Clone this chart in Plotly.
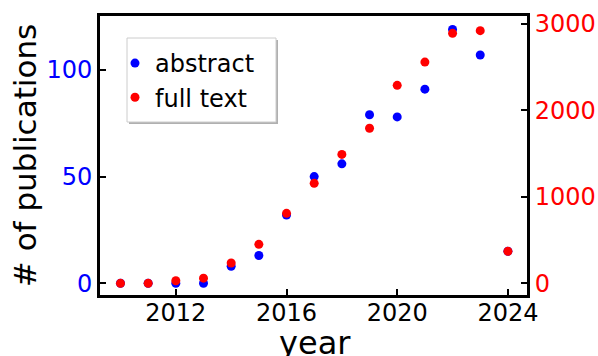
import plotly.graph_objects as go

years = list(range(2010, 2025))
abstract_counts = [0, 0, 0, 0, 8, 13, 32, 50, 56, 79, 78, 91, 119, 107, 15]
fulltext_counts = [0, 0, 30, 60, 235, 451, 810, 1157, 1492, 1794, 2291, 2560, 2892, 2923, 370]
x_ticks = [2012, 2016, 2020, 2024]
left_ticks = [0, 50, 100]
right_ticks = [0, 1000, 2000, 3000]

FONT = "DejaVu Sans"
W, H = 598, 356
ML, MR, MT, MB = 100, 71, 16, 61
PW, PH = W - ML - MR, H - MT - MB


def px_x(p):
    return (p - ML) / PW


def px_y(p):
    return (H - MB - p) / PH


fig = go.Figure()
fig.add_trace(go.Scatter(x=years, y=abstract_counts, mode="markers", name="abstract",
                         marker=dict(color="blue", size=9), yaxis="y"))
fig.add_trace(go.Scatter(x=years, y=fulltext_counts, mode="markers", name="full text",
                         marker=dict(color="red", size=9), yaxis="y2"))

# legend frame (with light shadow) drawn behind a borderless legend
fig.add_shape(type="rect", xref="paper", yref="paper", layer="below",
              x0=px_x(129), x1=px_x(278), y0=px_y(124), y1=px_y(40),
              line=dict(width=0), fillcolor="#b0b0b0")
fig.add_shape(type="rect", xref="paper", yref="paper", layer="below",
              x0=px_x(127), x1=px_x(276), y0=px_y(122), y1=px_y(38),
              line=dict(width=1, color="#cccccc"), fillcolor="white")

# x-axis title placed as an annotation so it can run past the bottom edge like the reference
fig.add_annotation(text="year", xref="paper", yref="paper", x=px_x(315), y=px_y(322),
                   xanchor="center", yanchor="top", showarrow=False,
                   font=dict(size=32, family=FONT, color="black"))

fig.update_layout(
    width=W, height=H,
    margin=dict(l=ML, r=MR, t=MT, b=MB),
    paper_bgcolor="white", plot_bgcolor="rgba(0,0,0,0)",
    font=dict(family=FONT, color="black"),
    showlegend=True,
    legend=dict(x=px_x(115), y=px_y(41), xanchor="left", yanchor="top",
                bgcolor="rgba(0,0,0,0)", borderwidth=0,
                font=dict(size=24, family=FONT), itemwidth=30),
    xaxis=dict(range=[2009.26, 2024.69], tickvals=x_ticks, ticks="inside", ticklen=6, tickwidth=2,
               tickcolor="black", showline=True, linecolor="black", linewidth=3, mirror=True,
               showgrid=False, zeroline=False, tickfont=dict(size=24, color="black"),
               ticklabelstandoff=-6, automargin=False),
    yaxis=dict(range=[-5.5, 125.3], tickvals=left_ticks, ticks="inside", ticklen=6, tickwidth=2,
               tickcolor="black", showline=True, linecolor="black", linewidth=3,
               showgrid=False, zeroline=False, tickfont=dict(size=24, color="blue"),
               automargin=False,
               title=dict(text="# of publications", font=dict(size=31), standoff=1)),
    yaxis2=dict(range=[-135, 3093], tickvals=right_ticks, ticks="inside", ticklen=6, tickwidth=2,
                tickcolor="black", showline=True, linecolor="black", linewidth=3,
                overlaying="y", side="right", showgrid=False, zeroline=False,
                automargin=False,
                tickfont=dict(size=24, color="red")),
)

fig.write_html("out.html")
